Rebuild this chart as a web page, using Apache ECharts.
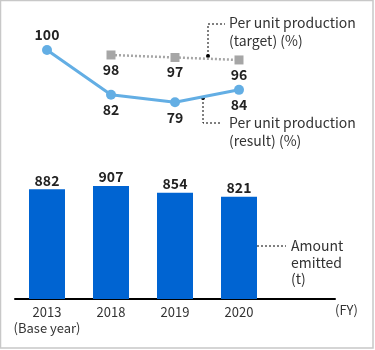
<!DOCTYPE html>
<html lang="en">
<head>
<meta charset="UTF-8">
<script src="https://cdn.jsdelivr.net/npm/echarts@6/dist/echarts.min.js"></script>
<title>Emissions</title>
<style>
  body { margin: 0; background: #fff; }
  #main { width: 375px; height: 350px; }
</style>
</head>
<body>
<div id="main"></div>
<script>
var years = ['2013\n(Base year)', '2018', '2019', '2020', ''];
var emitted = [882, 907, 854, 821];
var perUnitResult = [100, 82, 79, 84];
var perUnitTarget = [null, 98, 97, 96];

var font = '"Noto Sans CJK JP", "Noto Sans", sans-serif';

var myChart = echarts.init(document.getElementById('main'));

var resultData = perUnitResult.map(function (v, i) {
    return { value: v, label: { position: i === 0 ? 'top' : 'bottom' } };
});

var option = {
    animation: false,
    textStyle: { fontFamily: font },
    grid: { left: 15, right: 40, top: 50, bottom: 51 },
    xAxis: {
        type: 'category',
        data: years,
        axisTick: { show: false },
        axisLine: { lineStyle: { color: '#000', width: 2 } },
        axisLabel: { interval: 0, color: '#333', fontSize: 13, lineHeight: 16, margin: 5, fontFamily: font },
        name: '(FY)',
        nameLocation: 'end',
        nameGap: 0,
        nameTextStyle: { color: '#333', fontSize: 13, fontFamily: font, align: 'left', verticalAlign: 'top', padding: [5, 0, 0, 0] }
    },
    yAxis: [
        { type: 'value', min: 0, max: 2000, show: false },
        { type: 'value', min: 0, max: 100, show: false }
    ],
    series: [
        {
            name: 'Amount emitted (t)',
            type: 'bar',
            yAxisIndex: 0,
            data: emitted,
            barWidth: 36,
            itemStyle: { color: '#0064d2' },
            label: { show: true, position: 'top', distance: 2, color: '#222', fontSize: 14, fontWeight: 'bold', fontFamily: font }
        },
        {
            name: 'Per unit production (target) (%)',
            type: 'line',
            yAxisIndex: 1,
            data: perUnitTarget,
            symbol: 'rect',
            symbolSize: 9,
            itemStyle: { color: '#a6a6a6' },
            lineStyle: { color: '#a6a6a6', width: 2.5, type: [2, 2] },
            label: { show: true, position: 'bottom', distance: 3, color: '#222', fontSize: 14, fontWeight: 'bold', fontFamily: font }
        },
        {
            name: 'Per unit production (result) (%)',
            type: 'line',
            yAxisIndex: 1,
            data: resultData,
            symbol: 'circle',
            symbolSize: 10,
            itemStyle: { color: '#63aee4' },
            lineStyle: { color: '#63aee4', width: 3 },
            label: { show: true, distance: 3, color: '#222', fontSize: 14, fontWeight: 'bold', fontFamily: font }
        }
    ],
    graphic: [
        { type: 'rect', shape: { x: 0.5, y: 0.5, width: 372.5, height: 347.5 }, style: { fill: 'none', stroke: '#c8c8c8', lineWidth: 1.5 }, silent: true },
        // target leader
        { type: 'polyline', shape: { points: [[208, 56], [208, 24], [225, 24]] }, style: { stroke: '#000', lineWidth: 1, lineDash: [2, 2], fill: 'none' } },
        { type: 'circle', shape: { cx: 208, cy: 56, r: 2 }, style: { fill: '#000' } },
        { type: 'text', x: 229, y: 14, style: { text: 'Per unit production\n(target) (%)', font: '14px ' + font, fill: '#333', lineHeight: 18, verticalAlign: 'top' } },
        // result leader
        { type: 'polyline', shape: { points: [[203, 98], [203, 123], [222, 123]] }, style: { stroke: '#000', lineWidth: 1, lineDash: [2, 2], fill: 'none' } },
        { type: 'circle', shape: { cx: 203, cy: 98, r: 2 }, style: { fill: '#000' } },
        { type: 'text', x: 229, y: 114, style: { text: 'Per unit production\n(result) (%)', font: '14px ' + font, fill: '#333', lineHeight: 18, verticalAlign: 'top' } },
        // amount leader
        { type: 'line', shape: { x1: 249, y1: 246, x2: 286, y2: 246 }, style: { stroke: '#000', lineWidth: 1, lineDash: [2, 2] } },
        { type: 'circle', shape: { cx: 249, cy: 246, r: 2 }, style: { fill: '#000' } },
        { type: 'text', x: 291, y: 237.5, style: { text: 'Amount\nemitted\n(t)', font: '14px ' + font, fill: '#333', lineHeight: 16.5, verticalAlign: 'top' } }
    ]
};

myChart.setOption(option);
</script>
</body>
</html>
